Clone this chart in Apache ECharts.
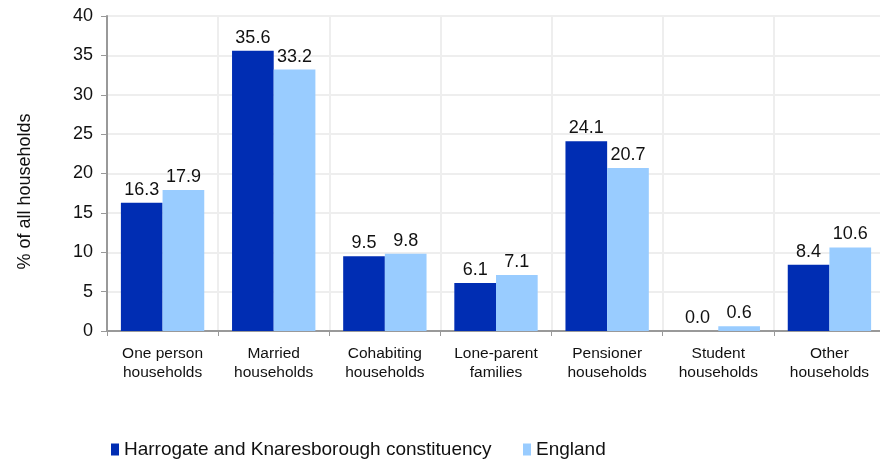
<!DOCTYPE html>
<html><head><meta charset="utf-8">
<script src="https://cdn.jsdelivr.net/npm/echarts@6/dist/echarts.min.js"></script>
<style>html,body{margin:0;padding:0;background:#fff}#c{width:880px;height:462px}</style>
</head><body><div id="c"></div>
<script>
const categories = ['One person\nhouseholds','Married\nhouseholds','Cohabiting\nhouseholds','Lone-parent\nfamilies','Pensioner\nhouseholds','Student\nhouseholds','Other\nhouseholds'];
const harrogate = [16.3, 35.6, 9.5, 6.1, 24.1, 0.0, 8.4];
const england = [17.9, 33.2, 9.8, 7.1, 20.7, 0.6, 10.6];
const seriesNames = ['Harrogate and Knaresborough constituency', 'England'];
const yTicks = {min: 0, max: 40, interval: 5};

const font = 'Liberation Sans, Arial, sans-serif';
const chart = echarts.init(document.getElementById('c'));
const lbl = {show: true, position: 'top', distance: 4, color: '#111', fontSize: 18, fontFamily: font, formatter: p => p.value.toFixed(1)};
const legText = {fontSize: 19, color: '#111', fontFamily: 'Liberation Sans Narrow, Arial Narrow, Liberation Sans, sans-serif'};
chart.setOption({
  animation: false,
  textStyle: {fontFamily: font},
  grid: {left: 107, top: 16, width: 778, height: 315, outerBoundsMode: 'none', containLabel: false},
  legend: [
    {data: [seriesNames[0]], left: 111, top: 440, padding: 0, itemWidth: 8, itemHeight: 12, icon: 'rect', textStyle: legText},
    {data: [seriesNames[1]], left: 523, top: 440, padding: 0, itemWidth: 8, itemHeight: 12, icon: 'rect', textStyle: legText}
  ],
  xAxis: {
    type: 'category', data: categories,
    axisLine: {lineStyle: {color: '#999', width: 2}},
    axisTick: {show: true, length: 5, lineStyle: {color: '#999'}},
    splitLine: {show: true, lineStyle: {color: '#eeeeee', width: 2}},
    axisLabel: {color: '#111', fontSize: 15.5, lineHeight: 19, margin: 13, interval: 0}
  },
  yAxis: {
    type: 'value', min: yTicks.min, max: yTicks.max, interval: yTicks.interval,
    name: '% of all households', nameLocation: 'middle', nameGap: 73, nameRotate: 90,
    nameTextStyle: {fontSize: 18, color: '#111', padding: [0, 36, 0, 0]},
    axisLine: {show: true, lineStyle: {color: '#999', width: 2}},
    axisTick: {show: true, length: 6, lineStyle: {color: '#999'}},
    splitLine: {show: true, lineStyle: {color: '#eeeeee', width: 2}},
    axisLabel: {color: '#111', fontSize: 18, margin: 14}
  },
  series: [
    {name: seriesNames[0], type: 'bar', data: harrogate, barGap: '0%', barCategoryGap: '25%', itemStyle: {color: '#002DB3'}, label: lbl},
    {name: seriesNames[1], type: 'bar', data: england, itemStyle: {color: '#99CCFF'}, label: lbl}
  ]
});
</script></body></html>
